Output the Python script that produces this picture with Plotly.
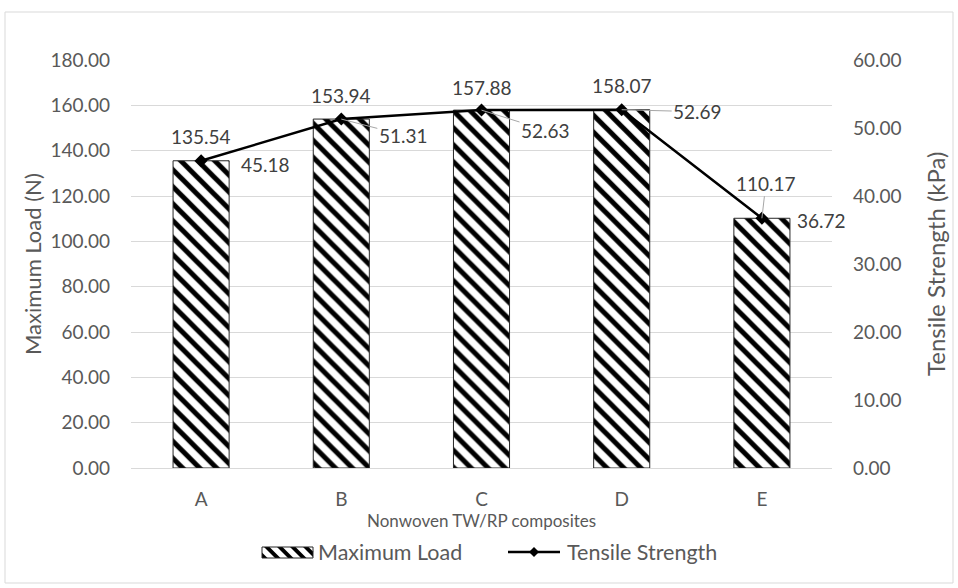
import plotly.graph_objects as go

# Composite samples and measured properties
categories = ["A", "B", "C", "D", "E"]
max_load = [135.54, 153.94, 157.88, 158.07, 110.17]        # N
tensile_strength = [45.18, 51.31, 52.63, 52.69, 36.72]     # kPa

left_ticks = [0, 20, 40, 60, 80, 100, 120, 140, 160, 180]
right_ticks = [0, 10, 20, 30, 40, 50, 60]

FONT = "Lato, Carlito, Calibri, sans-serif"
TICK_COLOR = "#595959"
LABEL_COLOR = "#404040"
GRID = "#d9d9d9"

W, H = 958, 588
ML, MR, MT, MB = 131, 126, 60, 120
PL, PR, PT, PB = ML, W - MR, MT, H - MB


def px(xp):
    """Horizontal pixel position -> paper coordinate."""
    return (xp - PL) / (PR - PL)


def py(yp):
    """Vertical pixel position -> paper coordinate."""
    return (PB - yp) / (PB - PT)


fig = go.Figure()

fig.add_trace(go.Bar(
    x=categories, y=max_load, name="Maximum Load",
    width=0.4, showlegend=False,
    marker=dict(
        color="white",
        line=dict(color="#262626", width=1),
        pattern=dict(shape="\\", fgcolor="black", bgcolor="white",
                     size=12, solidity=0.42, fillmode="replace"),
    ),
    yaxis="y",
))

fig.add_trace(go.Scatter(
    x=categories, y=tensile_strength, name="Tensile Strength",
    mode="lines+markers", showlegend=False,
    line=dict(color="black", width=2.5),
    marker=dict(symbol="diamond", size=10, color="black"),
    yaxis="y2",
))

annotations = []

# Value labels above the bars
bar_offsets = [(0, -24), (0, -24), (0, -23), (0, -24), (4, -35)]
for cat, val, (dx, dy) in zip(categories, max_load, bar_offsets):
    lead = cat == "E"
    annotations.append(dict(
        x=cat, y=val, xref="x", yref="y", text=f"{val:.2f}",
        showarrow=lead, arrowhead=0, arrowwidth=1, arrowcolor="#a6a6a6",
        ax=dx, ay=dy, xshift=0 if lead else dx, yshift=0 if lead else -dy,
        font=dict(family=FONT, size=19, color=LABEL_COLOR),
    ))

# Value labels beside the line points
line_offsets = [(64, 4, False), (62, 16, True), (64, 20, True), (76, 2, True), (60, 2, False)]
for cat, val, (dx, dy, lead) in zip(categories, tensile_strength, line_offsets):
    annotations.append(dict(
        x=cat, y=val, xref="x", yref="y2", text=f"{val:.2f}",
        showarrow=lead, arrowhead=0, arrowwidth=1, arrowcolor="#a6a6a6",
        ax=dx, ay=dy, xshift=0 if lead else dx, yshift=0 if lead else -dy,
        font=dict(family=FONT, size=19, color=LABEL_COLOR),
    ))

# Axis titles
annotations += [
    dict(x=px(32), y=0.5, xref="paper", yref="paper", text="Maximum Load (N)",
         textangle=-90, showarrow=False, xanchor="center", yanchor="middle",
         font=dict(family=FONT, size=22, color=TICK_COLOR)),
    dict(x=px(935), y=0.5, xref="paper", yref="paper", text="Tensile Strength (kPa)",
         textangle=-90, showarrow=False, xanchor="center", yanchor="middle",
         font=dict(family=FONT, size=24, color=TICK_COLOR)),
    dict(x=px(481), y=py(520), xref="paper", yref="paper",
         text="Nonwoven TW/RP composites", showarrow=False,
         xanchor="center", yanchor="middle",
         font=dict(family=FONT, size=17, color=TICK_COLOR)),
]

# Legend: text entries
LEG_Y = 552
annotations += [
    dict(x=px(316), y=py(LEG_Y), xref="paper", yref="paper", text="Maximum Load",
         showarrow=False, xanchor="left", yanchor="middle",
         font=dict(family=FONT, size=21.5, color=TICK_COLOR)),
    dict(x=px(565), y=py(LEG_Y), xref="paper", yref="paper", text="Tensile Strength",
         showarrow=False, xanchor="left", yanchor="middle",
         font=dict(family=FONT, size=21.5, color=TICK_COLOR)),
]

shapes = [
    # chart frame
    dict(type="rect", xref="paper", yref="paper",
         x0=px(5), x1=px(953), y0=py(583), y1=py(12),
         line=dict(color=GRID, width=1), layer="below"),
]


def clip_x(poly, lo, hi):
    """Clip a convex polygon to lo <= x <= hi."""
    def clip(points, inside, cross):
        out = []
        for i in range(len(points)):
            cur, prev = points[i], points[i - 1]
            if inside(cur):
                if not inside(prev):
                    out.append(cross(prev, cur))
                out.append(cur)
            elif inside(prev):
                out.append(cross(prev, cur))
        return out

    def at(xv):
        def cross(p, q):
            t = (xv - p[0]) / (q[0] - p[0])
            return (xv, p[1] + t * (q[1] - p[1]))
        return cross

    poly = clip(poly, lambda p: p[0] >= lo, at(lo))
    if poly:
        poly = clip(poly, lambda p: p[0] <= hi, at(hi))
    return poly


# Legend: hatched swatch for the bars
sx0, sx1, sy0, sy1 = 262, 313, 547, 558
period, stripe = 13, 5.5
h = sy1 - sy0
a = sx0 - h - period
while a < sx1:
    poly = [(a, sy0), (a + stripe, sy0), (a + stripe + h, sy1), (a + h, sy1)]
    poly = clip_x(poly, sx0, sx1)
    if len(poly) >= 3:
        path = "M " + " L ".join(f"{px(x):.5f},{py(y):.5f}" for x, y in poly) + " Z"
        shapes.append(dict(type="path", xref="paper", yref="paper", path=path,
                           fillcolor="black", line=dict(width=0)))
    a += period
shapes.append(dict(type="rect", xref="paper", yref="paper",
                   x0=px(sx0), x1=px(sx1), y0=py(sy1), y1=py(sy0),
                   line=dict(color="#262626", width=1)))

# Legend: line swatch with diamond marker
shapes.append(dict(type="line", xref="paper", yref="paper",
                   x0=px(508), x1=px(560), y0=py(LEG_Y), y1=py(LEG_Y),
                   line=dict(color="black", width=2.5)))
d = 5
shapes.append(dict(type="path", xref="paper", yref="paper",
                   path=(f"M {px(534 - d):.5f},{py(LEG_Y):.5f} L {px(534):.5f},{py(LEG_Y - d):.5f} "
                         f"L {px(534 + d):.5f},{py(LEG_Y):.5f} L {px(534):.5f},{py(LEG_Y + d):.5f} Z"),
                   fillcolor="black", line=dict(width=0)))

fig.update_layout(
    width=W, height=H,
    margin=dict(l=ML, r=MR, t=MT, b=MB, autoexpand=False),
    paper_bgcolor="white", plot_bgcolor="white",
    font=dict(family=FONT, color=TICK_COLOR),
    showlegend=False,
    xaxis=dict(
        type="category", range=[-0.5, len(categories) - 0.5],
        showgrid=False, zeroline=False, automargin=False,
        showline=True, linecolor=GRID, linewidth=1,
        ticks="", tickfont=dict(family=FONT, size=19, color=TICK_COLOR),
        ticklabelstandoff=14,
    ),
    yaxis=dict(
        range=[0, 180], tickvals=left_ticks, automargin=False,
        ticktext=[f"{v:.2f}" for v in left_ticks],
        showgrid=True, gridcolor=GRID, gridwidth=1, zeroline=False,
        showline=False, ticks="",
        tickfont=dict(family=FONT, size=19, color=TICK_COLOR),
        ticklabelstandoff=20,
    ),
    yaxis2=dict(
        range=[0, 60], tickvals=right_ticks, automargin=False,
        ticktext=[f"{v:.2f}" for v in right_ticks],
        overlaying="y", side="right", showgrid=False, zeroline=False,
        showline=False, ticks="",
        tickfont=dict(family=FONT, size=19, color=TICK_COLOR),
        ticklabelstandoff=20,
    ),
    annotations=annotations,
    shapes=shapes,
    bargap=0.6,
)

fig.write_html("out.html")
